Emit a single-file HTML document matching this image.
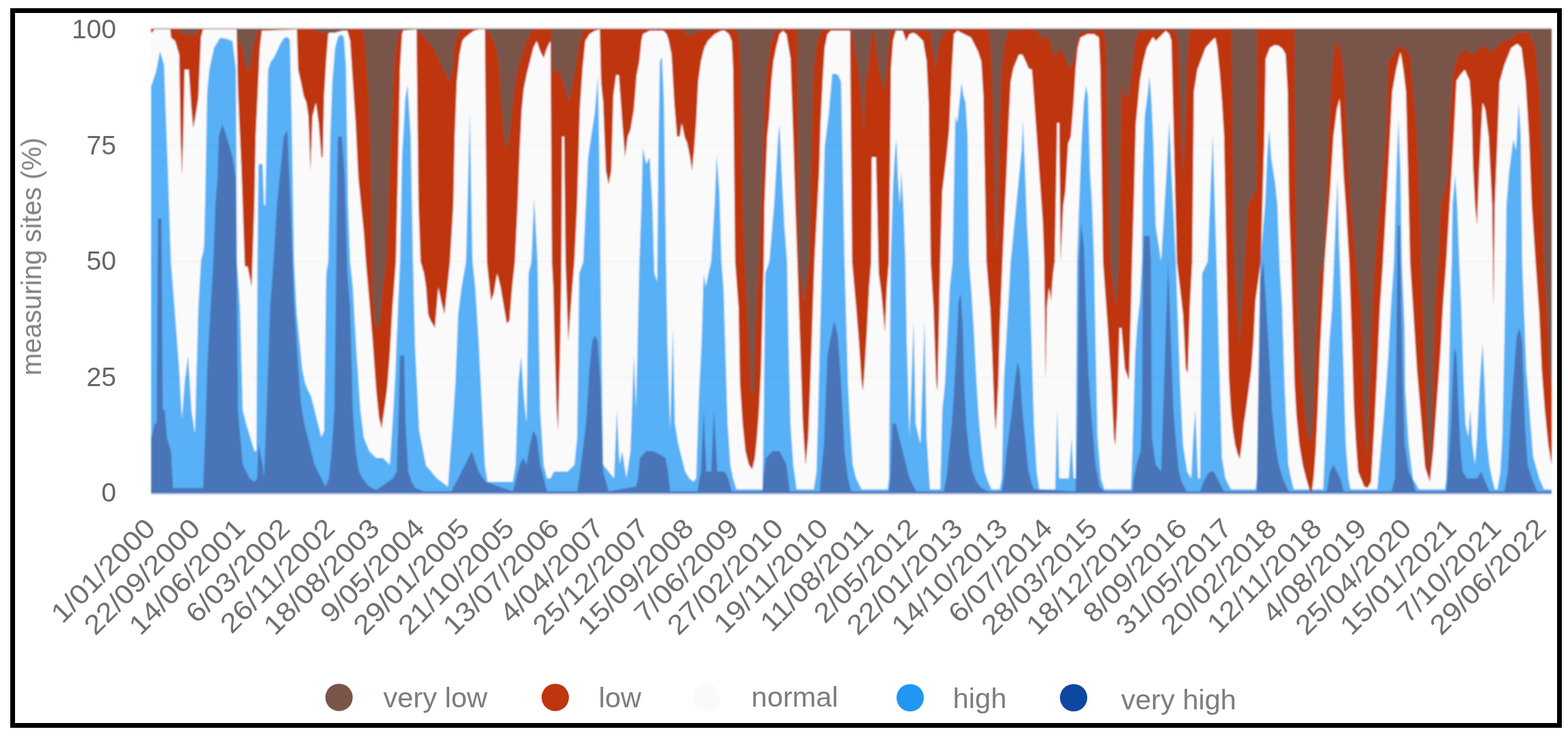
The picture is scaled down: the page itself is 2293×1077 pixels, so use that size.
<!DOCTYPE html>
<html><head><meta charset="utf-8"><title>measuring sites</title>
<style>
html,body{margin:0;padding:0;background:#fff;}
body{width:2293px;height:1077px;position:relative;overflow:hidden;}
.frame{position:absolute;left:14.9px;top:12px;width:2269px;height:1053px;box-sizing:border-box;border:7.2px solid #000;}
</style></head><body>
<svg width="2293" height="1077" viewBox="0 0 2293 1077" style="position:absolute;left:0;top:0">
<defs><filter id="bc" x="-1%" y="-1%" width="102%" height="102%"><feGaussianBlur stdDeviation="0.9"/></filter><filter id="bt" x="-5%" y="-5%" width="110%" height="110%"><feGaussianBlur stdDeviation="0.6"/></filter></defs>
<g filter="url(#bc)">
<rect x="221.0" y="40" width="2048.0" height="1.5" fill="#e2e2e2"/>
<rect x="221.0" y="42.5" width="2048.0" height="679.5" fill="#4975b8"/>
<path d="M221.0 42.0L221.0 640.0 222.0 640.0 226.0 620.0 229.0 620.0 231.0 320.0 236.0 320.0 238.0 600.0 241.0 600.0 244.0 640.0 250.0 660.0 253.0 714.0 290.0 714.0 297.0 714.0 300.0 640.0 303.0 540.0 308.0 450.0 312.0 383.0 315.0 300.0 318.0 262.0 320.0 200.0 325.0 182.0 330.0 195.0 340.0 230.0 345.0 260.0 348.0 600.0 355.0 680.0 365.0 700.0 372.0 705.0 376.0 700.0 378.0 650.0 384.0 680.0 386.0 700.0 390.0 600.0 395.0 450.0 400.0 383.0 405.0 300.0 410.0 250.0 415.0 200.0 420.0 190.0 425.0 300.0 430.0 440.0 435.0 520.0 440.0 590.0 445.0 620.0 450.0 640.0 460.0 680.0 470.0 700.0 476.0 712.0 481.0 700.0 485.0 660.0 489.0 600.0 491.0 450.0 494.0 200.0 500.0 200.0 504.0 260.0 508.0 400.0 512.0 450.0 516.0 600.0 520.0 660.0 525.0 690.0 530.0 700.0 540.0 712.0 550.0 717.0 575.0 700.0 580.0 690.0 583.0 600.0 585.0 520.0 591.0 520.0 593.0 620.0 597.0 690.0 602.0 705.0 607.0 714.0 620.0 719.0 660.0 719.0 670.0 700.0 680.0 680.0 690.0 660.0 700.0 690.0 710.0 705.0 750.0 719.0 755.0 700.0 760.0 680.0 765.0 670.0 770.0 680.0 775.0 650.0 780.0 630.0 785.0 640.0 790.0 680.0 800.0 719.0 844.0 719.0 847.0 700.0 852.0 660.0 857.0 620.0 862.0 540.0 866.0 500.0 870.0 490.0 874.0 500.0 878.0 560.0 882.0 690.0 890.0 719.0 930.0 712.0 933.0 700.0 936.0 670.0 945.0 660.0 955.0 660.0 965.0 665.0 973.0 670.0 977.0 690.0 980.0 719.0 1020.0 719.0 1023.0 700.0 1025.0 690.0 1029.0 600.0 1033.0 690.0 1040.0 690.0 1044.0 600.0 1049.0 690.0 1060.0 690.0 1065.0 700.0 1070.0 719.0 1115.0 719.0 1116.0 700.0 1120.0 670.0 1130.0 660.0 1140.0 660.0 1150.0 680.0 1155.0 719.0 1199.0 719.0 1200.0 700.0 1205.0 650.0 1210.0 520.0 1215.0 492.0 1220.0 470.0 1225.0 490.0 1230.0 560.0 1235.0 660.0 1240.0 700.0 1245.0 719.0 1300.0 719.0 1302.0 700.0 1305.0 620.0 1310.0 620.0 1315.0 640.0 1320.0 660.0 1325.0 680.0 1330.0 700.0 1340.0 719.0 1378.0 719.0 1380.0 719.0 1384.0 700.0 1388.0 660.0 1392.0 620.0 1396.0 560.0 1399.0 500.0 1402.0 440.0 1405.0 430.0 1408.0 480.0 1410.0 560.0 1413.0 620.0 1417.0 660.0 1422.0 690.0 1428.0 705.0 1435.0 714.0 1445.0 719.0 1465.0 719.0 1468.0 700.0 1472.0 660.0 1476.0 630.0 1480.0 600.0 1484.0 560.0 1488.0 530.0 1491.0 540.0 1495.0 600.0 1500.0 650.0 1504.0 690.0 1508.0 705.0 1512.0 716.0 1573.0 719.0 1576.0 600.0 1578.0 383.0 1581.0 326.0 1585.0 360.0 1588.0 450.0 1592.0 550.0 1597.0 620.0 1602.0 680.0 1608.0 712.0 1615.0 719.0 1656.0 719.0 1658.0 700.0 1662.0 680.0 1668.0 660.0 1670.0 600.0 1671.5 383.0 1673.0 345.0 1681.0 345.0 1683.0 383.0 1684.5 640.0 1690.0 680.0 1698.0 690.0 1701.0 600.0 1708.2 383.0 1716.0 600.0 1720.0 650.0 1724.0 690.0 1728.0 705.0 1735.0 719.0 1755.0 719.0 1760.0 705.0 1765.0 695.0 1770.0 690.0 1775.0 690.0 1780.0 700.0 1790.0 719.0 1838.0 719.0 1840.0 420.0 1847.5 383.0 1856.0 520.0 1860.0 600.0 1865.0 650.0 1870.0 680.0 1876.0 700.0 1882.0 714.0 1885.0 719.0 1940.0 719.0 1945.0 690.0 1950.0 680.0 1955.0 690.0 1960.0 700.0 1965.0 719.0 2035.0 719.0 2040.0 700.0 2042.0 500.0 2044.0 330.0 2047.0 330.0 2050.0 500.0 2054.0 650.0 2060.0 690.0 2065.0 700.0 2070.0 719.0 2113.0 719.0 2115.0 719.0 2119.0 670.0 2122.0 620.0 2125.0 540.0 2127.0 508.0 2130.0 520.0 2133.0 600.0 2136.0 660.0 2139.0 690.0 2145.0 700.0 2150.0 700.0 2160.0 700.0 2166.0 690.0 2170.0 700.0 2178.0 719.0 2200.0 719.0 2205.0 690.0 2210.0 600.0 2215.0 530.0 2218.0 492.0 2222.0 480.0 2226.0 500.0 2230.0 620.0 2234.0 680.0 2240.0 700.0 2248.0 719.0 2269.0 719.0L2269.0 42.0Z" fill="#58b0f6"/>
<path d="M221.0 42.0L221.0 124.0 222.0 124.0 228.0 105.0 234.0 75.0 240.0 95.0 242.0 156.0 246.0 262.0 250.0 383.0 256.0 460.0 262.0 540.0 266.0 614.0 270.0 560.0 275.0 520.0 280.0 600.0 285.0 635.0 290.0 450.0 294.0 380.0 297.0 370.0 298.5 358.0 300.0 294.0 303.0 134.0 306.0 102.0 313.0 70.0 322.0 55.0 332.0 57.0 340.0 60.0 345.0 102.0 346.5 383.0 351.0 450.0 355.0 600.0 360.0 620.0 366.0 640.0 372.0 660.0 375.0 660.0 376.5 383.0 378.0 240.0 384.0 240.0 386.0 300.0 388.0 300.0 392.0 102.0 396.0 90.0 400.0 85.0 405.0 75.0 410.0 64.0 415.0 56.0 420.0 54.0 424.0 58.0 427.0 200.0 430.0 383.0 434.0 460.0 438.0 500.0 442.0 540.0 446.0 560.0 450.0 570.0 455.0 580.0 460.0 600.0 465.0 620.0 470.0 640.0 474.0 630.0 477.0 400.0 480.0 383.0 483.0 200.0 486.0 120.0 490.0 70.0 494.0 55.0 497.0 51.0 500.0 51.0 503.0 55.0 506.0 100.0 509.0 300.0 512.0 383.0 516.0 420.0 521.0 510.0 527.0 600.0 532.0 640.0 540.0 660.0 550.0 670.0 560.0 670.0 570.0 680.0 575.0 604.0 578.0 550.0 582.0 450.0 585.0 383.0 588.0 230.0 592.6 144.0 596.0 124.0 600.6 198.0 604.0 383.0 607.0 508.0 613.0 630.0 623.0 681.0 639.0 700.0 655.0 712.0 662.0 620.0 666.0 560.0 670.0 460.0 675.0 420.0 681.5 383.0 687.0 166.0 691.0 383.0 695.0 420.0 700.0 500.0 705.0 600.0 709.0 680.0 713.0 705.0 750.0 705.0 754.0 680.0 758.0 560.0 762.0 521.0 766.0 580.0 770.0 620.0 773.0 400.0 777.0 383.0 781.0 290.0 786.0 380.0 790.0 600.0 795.0 680.0 800.0 700.0 805.0 700.0 810.0 690.0 830.0 690.0 840.0 680.0 844.0 640.0 847.0 400.0 853.0 383.0 854.0 358.0 860.0 230.0 869.6 166.0 874.4 112.0 876.0 200.0 878.0 383.0 882.0 680.0 890.0 690.0 898.0 700.0 902.0 600.0 906.0 680.0 910.0 660.0 916.0 700.0 922.0 660.0 927.0 520.0 930.0 600.0 932.0 520.0 935.0 383.0 938.0 300.0 940.0 217.0 945.0 240.0 950.0 230.0 954.0 300.0 957.0 400.0 961.0 412.0 963.0 200.0 965.0 90.0 968.0 83.0 971.0 150.0 974.0 383.0 976.0 500.0 980.0 630.0 984.0 480.0 987.0 620.0 992.0 650.0 997.0 670.0 1002.0 690.0 1008.0 700.0 1014.0 705.0 1018.0 700.0 1022.0 580.0 1026.0 500.0 1029.0 400.0 1032.0 420.0 1036.0 400.0 1040.0 383.0 1045.0 300.0 1048.0 227.0 1052.0 280.0 1055.0 383.0 1058.0 420.0 1061.0 520.0 1064.0 620.0 1068.0 680.0 1072.0 700.0 1077.0 716.0 1115.0 716.0 1117.0 600.0 1119.0 400.0 1125.0 383.0 1132.0 300.0 1138.0 200.0 1140.0 182.0 1143.0 250.0 1147.0 330.0 1151.0 383.0 1153.0 500.0 1156.0 620.0 1160.0 680.0 1165.0 716.0 1190.0 716.0 1194.0 690.0 1196.0 620.0 1199.0 500.0 1202.0 383.0 1206.0 215.0 1212.0 166.0 1217.0 108.0 1222.0 108.0 1226.0 110.0 1230.0 120.0 1235.0 383.0 1240.0 560.0 1243.0 620.0 1247.0 680.0 1252.0 700.0 1260.0 716.0 1298.0 716.0 1300.0 700.0 1302.5 383.0 1306.0 270.0 1309.0 220.0 1311.0 204.0 1313.0 260.0 1316.0 300.0 1318.0 250.0 1321.0 300.0 1324.0 383.0 1326.0 500.0 1330.0 640.0 1336.0 470.0 1339.0 620.0 1346.0 650.0 1352.0 470.0 1355.0 640.0 1360.0 716.0 1375.0 716.0 1378.0 600.0 1382.0 560.0 1386.0 480.0 1389.0 420.0 1393.0 383.0 1397.0 170.0 1400.0 180.0 1403.0 150.0 1406.0 121.0 1409.0 140.0 1412.0 150.0 1415.0 200.0 1417.0 383.0 1420.0 420.0 1424.0 480.0 1428.0 560.0 1432.0 620.0 1436.0 660.0 1440.0 690.0 1445.0 705.0 1450.0 716.0 1462.0 716.0 1465.0 700.0 1468.0 560.0 1478.0 383.0 1490.0 260.0 1494.0 220.0 1496.0 176.0 1499.0 250.0 1502.0 330.0 1505.0 383.0 1509.0 520.0 1512.0 620.0 1516.0 690.0 1520.0 716.0 1543.0 716.0 1546.0 600.0 1549.0 700.0 1563.0 700.0 1567.0 640.0 1570.0 700.0 1573.0 700.0 1575.0 383.0 1578.0 300.0 1582.0 200.0 1585.0 150.0 1588.0 125.0 1591.0 140.0 1594.0 250.0 1597.0 300.0 1600.0 383.0 1602.0 500.0 1605.0 640.0 1610.0 700.0 1615.0 716.0 1654.0 716.0 1656.0 660.0 1660.0 520.0 1663.0 476.0 1667.0 440.0 1670.0 383.0 1671.0 260.0 1674.0 170.0 1678.0 140.0 1681.0 112.0 1684.0 150.0 1687.0 220.0 1690.0 330.0 1698.0 383.0 1706.0 250.0 1710.0 176.0 1713.0 250.0 1719.5 383.0 1726.0 570.0 1730.0 650.0 1736.0 690.0 1742.0 700.0 1745.0 640.0 1748.0 600.0 1752.0 700.0 1755.0 700.0 1758.0 400.0 1766.0 383.0 1773.5 198.0 1779.0 383.0 1784.0 570.0 1787.0 670.0 1792.0 700.0 1800.0 716.0 1836.0 716.0 1838.0 700.0 1843.0 383.0 1850.0 300.0 1853.0 230.0 1856.0 189.0 1859.0 230.0 1862.0 250.0 1865.0 270.0 1868.0 300.0 1871.0 383.0 1875.0 450.0 1878.0 550.0 1881.0 620.0 1884.0 680.0 1888.0 700.0 1892.0 716.0 1935.0 716.0 1940.0 600.0 1944.0 500.0 1948.0 450.0 1952.0 350.0 1956.0 262.0 1958.0 350.0 1962.0 450.0 1965.0 550.0 1968.0 650.0 1972.0 700.0 1975.0 716.0 2014.0 716.0 2024.0 604.0 2030.0 524.0 2034.0 450.0 2038.5 383.0 2042.0 250.0 2045.0 176.0 2048.0 250.0 2050.0 383.0 2054.0 480.0 2055.0 570.0 2060.0 650.0 2066.0 700.0 2075.0 716.0 2113.0 716.0 2115.0 700.0 2118.0 600.0 2121.0 450.0 2123.0 383.0 2124.0 300.0 2128.0 256.0 2131.0 300.0 2134.0 383.0 2137.0 450.0 2140.0 550.0 2143.0 620.0 2147.0 640.0 2150.0 600.0 2153.0 650.0 2157.0 680.0 2160.0 640.0 2164.0 560.0 2168.0 502.0 2171.0 560.0 2174.0 640.0 2178.0 680.0 2182.0 700.0 2186.0 716.0 2190.0 716.0 2194.0 690.0 2197.0 640.0 2200.0 500.0 2202.0 383.0 2203.0 300.0 2207.0 250.0 2213.0 204.0 2217.0 220.0 2221.0 150.0 2224.0 200.0 2226.0 383.0 2232.0 540.0 2242.0 668.0 2251.0 700.0 2258.0 716.0 2269.0 716.0L2269.0 42.0Z" fill="#fafafa"/>
<path d="M221.0 42.0L221.0 48.0 222.0 48.0 226.0 43.0 249.0 43.0 250.0 55.0 256.0 60.0 262.0 80.0 264.0 200.0 266.0 256.0 268.0 200.0 270.0 102.0 276.0 102.0 280.0 160.0 282.5 188.0 286.0 170.0 290.0 144.0 294.0 54.0 297.0 43.0 346.0 43.0 348.0 134.0 353.0 246.0 358.0 390.0 362.0 390.0 368.0 420.0 372.0 300.0 374.0 198.0 377.0 134.0 380.0 70.0 383.0 45.0 434.0 43.0 436.0 102.0 440.0 120.0 444.0 140.0 448.0 150.0 451.0 170.0 454.0 250.0 457.0 170.0 462.0 150.0 466.0 180.0 470.0 230.0 472.0 230.0 474.0 140.0 477.0 90.0 480.0 50.0 483.0 45.0 508.0 45.0 512.0 60.0 516.0 120.0 520.0 180.0 524.0 260.0 528.0 300.0 532.0 340.0 535.0 383.0 540.0 440.0 545.0 500.0 550.0 570.0 554.0 610.0 558.0 627.0 562.0 600.0 566.0 570.0 570.0 520.0 574.0 450.0 579.0 383.0 583.0 200.0 585.0 100.0 588.0 50.0 590.0 43.0 606.0 43.0 609.0 43.0 612.0 300.0 615.0 383.0 620.0 400.0 623.0 420.0 626.0 460.0 630.0 470.0 636.0 480.0 641.0 420.0 645.0 440.0 650.0 460.0 658.0 383.0 663.0 300.0 665.0 200.0 668.0 120.0 672.0 80.0 676.0 60.0 680.0 55.0 686.0 50.0 693.0 45.0 700.0 43.0 709.0 43.0 712.0 383.0 718.0 440.0 722.0 430.0 727.0 400.0 732.0 420.0 737.0 450.0 741.0 473.0 745.0 470.0 749.0 420.0 753.0 383.0 757.0 300.0 760.0 220.0 763.0 160.0 766.0 130.0 770.0 110.0 775.0 90.0 780.0 70.0 785.0 60.0 790.0 75.0 795.0 85.0 800.0 70.0 805.0 60.0 807.0 383.0 809.0 420.0 811.0 500.0 814.0 600.0 816.0 630.0 819.0 520.0 821.0 400.0 822.0 200.0 825.0 200.0 827.0 383.0 831.0 500.0 834.0 460.0 837.0 420.0 840.0 383.0 844.0 300.0 848.0 160.0 852.0 100.0 856.0 60.0 862.0 50.0 870.0 45.0 877.0 43.0 879.0 120.0 882.0 150.0 886.0 250.0 890.0 270.0 894.0 250.0 897.0 140.0 901.0 110.0 905.0 110.0 910.0 180.0 914.0 230.0 918.0 200.0 922.0 190.0 927.0 160.0 931.0 110.0 935.0 90.0 938.0 60.0 940.0 50.0 950.0 45.0 970.0 45.0 975.0 50.0 978.0 60.0 982.0 80.0 986.0 150.0 990.0 200.0 994.0 200.0 997.0 180.0 1001.0 200.0 1005.0 210.0 1009.0 230.0 1012.0 250.0 1015.0 220.0 1018.0 180.0 1021.0 120.0 1025.0 90.0 1030.0 70.0 1035.0 60.0 1040.0 55.0 1045.0 50.0 1055.0 45.0 1060.0 45.0 1066.0 50.0 1070.0 60.0 1072.0 100.0 1075.0 383.0 1080.0 450.0 1082.0 560.0 1086.0 620.0 1090.0 660.0 1095.0 680.0 1100.0 687.0 1104.0 670.0 1107.0 640.0 1110.0 600.0 1113.0 540.0 1115.0 460.0 1117.0 383.0 1118.0 300.0 1120.0 250.0 1122.0 200.0 1125.0 170.0 1128.0 120.0 1131.0 90.0 1135.0 70.0 1140.0 50.0 1145.0 45.0 1150.0 50.0 1156.0 86.0 1160.0 200.0 1163.0 300.0 1166.0 383.0 1170.0 500.0 1174.0 620.0 1178.0 681.0 1182.0 640.0 1185.0 560.0 1191.0 383.0 1198.0 250.0 1200.0 180.0 1203.0 120.0 1206.0 70.0 1210.0 50.0 1215.0 45.0 1243.0 45.0 1246.0 383.0 1252.0 450.0 1256.0 500.0 1260.0 560.0 1262.0 572.0 1265.0 530.0 1268.0 480.0 1271.0 420.0 1274.0 383.0 1275.0 230.0 1281.0 230.0 1285.0 400.0 1289.0 430.0 1294.0 486.0 1297.0 420.0 1300.0 383.0 1303.0 100.0 1306.0 60.0 1310.0 45.0 1315.0 43.0 1320.0 45.0 1325.0 60.0 1330.0 50.0 1335.0 48.0 1340.0 50.0 1345.0 55.0 1350.0 60.0 1355.0 90.0 1358.0 150.0 1361.0 383.0 1365.0 450.0 1369.0 560.0 1371.0 572.0 1373.0 480.0 1375.0 383.0 1378.0 280.0 1384.0 230.0 1388.0 190.0 1392.0 100.0 1395.0 50.0 1400.0 45.0 1420.0 55.0 1425.0 65.0 1430.0 75.0 1435.0 90.0 1438.0 140.0 1442.5 383.0 1448.0 450.0 1451.0 520.0 1454.0 600.0 1456.0 630.0 1458.0 600.0 1460.0 560.0 1462.0 480.0 1466.0 383.0 1472.0 250.0 1475.0 180.0 1478.0 120.0 1482.0 100.0 1486.0 90.0 1490.0 80.0 1495.0 80.0 1500.0 90.0 1504.0 100.0 1509.0 102.0 1516.0 198.0 1525.0 326.0 1527.0 383.0 1529.0 556.0 1531.0 450.0 1534.0 420.0 1537.0 440.0 1540.0 400.0 1542.5 383.0 1546.0 180.0 1549.0 180.0 1551.0 383.0 1555.0 300.0 1558.0 280.0 1562.0 210.0 1566.0 200.0 1570.0 150.0 1573.0 100.0 1576.0 70.0 1580.0 55.0 1590.0 50.0 1600.0 50.0 1607.0 55.0 1609.0 100.0 1613.0 383.0 1620.0 480.0 1625.0 560.0 1629.0 640.0 1631.0 652.0 1634.0 600.0 1637.0 480.0 1640.0 480.0 1645.0 540.0 1651.0 556.0 1654.0 450.0 1655.5 383.0 1658.0 300.0 1661.0 182.0 1664.0 150.0 1667.0 118.0 1672.0 90.0 1677.0 70.0 1686.0 54.0 1690.0 60.0 1695.0 55.0 1700.0 50.0 1705.0 45.0 1710.0 50.0 1713.0 60.0 1721.0 383.0 1730.0 460.0 1734.0 540.0 1737.0 546.0 1740.0 450.0 1743.5 383.0 1746.0 134.0 1751.0 102.0 1757.0 86.0 1763.0 70.0 1770.0 62.0 1775.0 57.0 1777.0 55.0 1780.0 70.0 1784.0 110.0 1787.0 150.0 1790.0 200.0 1793.5 383.0 1797.0 550.0 1800.0 600.0 1803.0 630.0 1806.0 650.0 1810.0 665.0 1813.0 672.0 1816.0 650.0 1819.0 620.0 1822.0 600.0 1826.0 570.0 1830.0 540.0 1833.0 500.0 1836.0 440.0 1843.7 383.0 1849.0 200.0 1851.0 86.0 1857.0 70.0 1864.0 66.0 1870.0 67.0 1876.0 72.0 1880.0 80.0 1883.0 134.0 1885.0 300.0 1888.0 383.0 1893.0 560.0 1896.0 610.0 1900.0 650.0 1905.0 680.0 1910.0 700.0 1915.0 717.0 1918.0 722.0 1921.0 700.0 1924.0 660.0 1927.0 600.0 1930.0 520.0 1937.0 383.0 1945.0 280.0 1950.0 200.0 1955.0 160.0 1959.0 144.0 1962.0 200.0 1965.0 260.0 1968.0 300.0 1971.0 350.0 1973.0 383.0 1977.0 500.0 1980.0 600.0 1983.0 650.0 1986.0 690.0 1995.0 712.0 2000.0 714.0 2005.0 705.0 2010.0 620.0 2014.0 540.0 2018.0 450.0 2022.5 383.0 2030.0 250.0 2036.0 134.0 2042.0 100.0 2048.0 76.0 2052.0 100.0 2056.0 134.0 2059.0 250.0 2062.0 383.0 2067.0 460.0 2072.0 540.0 2078.0 610.0 2084.0 684.0 2091.0 705.0 2096.0 660.0 2100.0 604.0 2104.0 550.0 2107.0 508.0 2110.0 450.0 2115.0 383.0 2126.0 198.0 2130.0 118.0 2136.0 109.0 2142.0 102.0 2149.0 118.0 2152.0 160.0 2154.0 240.0 2157.0 300.0 2160.0 330.0 2163.0 250.0 2168.0 150.0 2172.0 160.0 2177.0 200.0 2182.0 300.0 2184.0 450.0 2186.0 300.0 2190.0 200.0 2193.0 120.0 2200.0 95.0 2210.0 70.0 2219.0 64.0 2225.0 70.0 2231.0 120.0 2236.0 200.0 2240.0 300.0 2245.5 383.0 2251.0 460.0 2254.5 540.0 2259.0 600.0 2264.0 650.0 2269.0 681.0L2269.0 42.0Z" fill="#bf360c"/>
<path d="M221.0 42.0L221.0 42.5 222.0 42.5 262.0 42.5 265.0 50.0 287.0 50.0 290.0 42.5 346.0 42.5 348.0 60.0 353.0 66.0 358.0 90.0 362.0 102.0 366.0 102.0 370.0 70.0 375.0 50.0 380.0 43.0 460.0 43.0 463.0 48.0 489.0 48.0 508.0 43.0 530.0 43.0 533.0 60.0 536.0 100.0 539.0 134.0 542.0 250.0 544.0 383.0 545.0 430.0 548.0 470.0 552.0 480.0 556.0 470.0 560.0 420.0 565.0 383.0 568.0 300.0 572.0 200.0 576.0 100.0 580.0 60.0 584.0 45.0 609.0 43.0 617.0 50.0 620.0 54.0 633.0 70.0 649.0 102.0 657.0 121.0 662.0 102.0 665.0 64.0 671.0 48.0 675.0 43.0 710.0 43.0 717.0 50.0 722.0 60.0 728.0 80.0 733.0 150.0 737.0 200.0 741.0 220.0 745.0 198.0 750.0 150.0 755.0 110.0 760.0 90.0 765.0 75.0 770.0 60.0 775.0 50.0 780.0 43.0 806.0 43.0 808.0 100.0 812.0 110.0 816.0 100.0 820.0 110.0 826.0 130.0 832.0 150.0 838.0 120.0 843.0 90.0 848.0 60.0 853.0 45.0 856.0 43.0 935.0 43.0 1000.0 43.0 1003.0 50.0 1010.0 52.0 1020.0 48.0 1025.0 45.0 1040.0 43.0 1071.0 43.0 1077.0 45.0 1080.0 50.0 1083.0 100.0 1086.0 300.0 1089.0 383.0 1094.0 480.0 1098.0 570.0 1102.0 580.0 1105.0 480.0 1110.0 383.0 1115.0 250.0 1118.0 150.0 1122.0 100.0 1125.0 80.0 1128.0 60.0 1132.0 50.0 1136.0 45.0 1140.0 43.0 1161.0 43.0 1166.0 45.0 1168.0 383.0 1172.0 420.0 1175.0 444.0 1179.0 420.0 1183.5 383.0 1187.0 200.0 1190.0 100.0 1195.0 60.0 1200.0 48.0 1205.0 43.0 1245.0 43.0 1250.0 70.0 1255.0 100.0 1260.0 150.0 1263.0 200.0 1266.0 118.0 1270.0 100.0 1275.0 50.0 1278.0 43.0 1280.0 60.0 1285.0 102.0 1290.0 120.0 1294.0 134.0 1297.0 100.0 1300.0 60.0 1303.0 45.0 1360.0 45.0 1362.0 60.0 1365.0 80.0 1369.0 102.0 1372.0 70.0 1376.0 55.0 1380.0 50.0 1385.0 45.0 1395.0 43.0 1445.0 43.0 1448.0 60.0 1452.0 150.0 1455.0 300.0 1458.0 383.0 1461.0 200.0 1465.0 100.0 1470.0 60.0 1475.0 45.0 1509.0 43.0 1515.0 45.0 1520.0 50.0 1525.0 60.0 1530.0 50.0 1535.0 60.0 1540.0 80.0 1545.0 80.0 1550.0 70.0 1555.0 80.0 1560.0 90.0 1565.0 100.0 1570.0 90.0 1575.0 60.0 1580.0 48.0 1610.0 43.0 1613.0 43.0 1617.0 60.0 1624.0 383.0 1630.0 440.0 1633.0 444.0 1636.0 383.0 1640.0 125.0 1645.0 140.0 1650.0 144.0 1653.0 120.0 1657.0 90.0 1660.0 60.0 1665.0 48.0 1670.0 45.0 1713.0 43.0 1718.0 45.0 1723.0 60.0 1726.0 150.0 1730.0 262.0 1733.0 200.0 1736.0 100.0 1739.0 50.0 1742.0 43.0 1794.0 43.0 1801.0 43.0 1804.5 383.0 1810.0 470.0 1813.0 508.0 1816.0 450.0 1820.5 383.0 1825.0 300.0 1830.0 290.0 1836.0 280.0 1837.5 280.0 1838.5 43.0 1887.0 43.0 1893.0 43.0 1896.0 383.0 1899.0 500.0 1902.0 540.0 1906.0 580.0 1910.0 620.0 1914.0 640.0 1918.0 646.0 1921.0 600.0 1924.0 520.0 1927.0 460.0 1930.0 400.0 1936.0 383.0 1943.0 200.0 1948.0 100.0 1952.0 70.0 1956.0 60.0 1961.0 75.0 1966.0 120.0 1970.0 200.0 1975.0 300.0 1983.0 383.0 1990.0 450.0 1993.0 550.0 1996.0 640.0 1999.0 668.0 2003.0 560.0 2007.0 450.0 2010.5 383.0 2020.0 280.0 2027.0 198.0 2030.0 92.0 2040.0 75.0 2048.0 67.0 2055.0 72.0 2062.0 80.0 2067.0 140.0 2072.0 198.0 2076.0 300.0 2078.0 383.0 2082.0 500.0 2087.0 620.0 2091.0 700.0 2094.0 620.0 2097.0 500.0 2100.0 420.0 2103.5 383.0 2107.0 300.0 2117.0 262.0 2120.0 166.0 2126.0 102.0 2133.0 80.0 2142.0 73.0 2155.0 80.0 2168.0 67.0 2181.0 76.0 2194.0 64.0 2213.0 54.0 2219.0 48.0 2235.0 48.0 2245.0 70.0 2251.0 134.0 2254.5 230.0 2257.6 383.0 2262.0 450.0 2266.0 540.0 2269.0 572.0L2269.0 42.0Z" fill="#795548"/>
<rect x="221.0" y="212.5" width="2048.0" height="1" fill="#000" fill-opacity="0.05"/>
<rect x="221.0" y="382.0" width="2048.0" height="1" fill="#000" fill-opacity="0.05"/>
<rect x="221.0" y="551.5" width="2048.0" height="1" fill="#000" fill-opacity="0.05"/>
<rect x="221.0" y="722" width="2048.0" height="2" fill="#ccd6eb"/>
</g><g filter="url(#bt)">
<text x="170.0" y="55.5" text-anchor="end" font-family="Liberation Sans, sans-serif" font-size="39.0" fill="#666666">100</text>
<text x="170.0" y="225.5" text-anchor="end" font-family="Liberation Sans, sans-serif" font-size="39.0" fill="#666666">75</text>
<text x="170.0" y="395.0" text-anchor="end" font-family="Liberation Sans, sans-serif" font-size="39.0" fill="#666666">50</text>
<text x="170.0" y="564.5" text-anchor="end" font-family="Liberation Sans, sans-serif" font-size="39.0" fill="#666666">25</text>
<text x="170.0" y="734.0" text-anchor="end" font-family="Liberation Sans, sans-serif" font-size="39.0" fill="#666666">0</text>
<text transform="translate(60.0 375.5) rotate(-90)" text-anchor="middle" font-family="Liberation Sans, sans-serif" font-size="41.0" fill="#808080" textLength="348.0" lengthAdjust="spacingAndGlyphs">measuring sites (%)</text>
<text transform="translate(229.6 775.5) rotate(-45) scale(1.100 1)" text-anchor="end" font-family="Liberation Sans, sans-serif" font-size="40.0" fill="#707070">1/01/2000</text>
<text transform="translate(295.2 775.5) rotate(-45) scale(1.100 1)" text-anchor="end" font-family="Liberation Sans, sans-serif" font-size="40.0" fill="#707070">22/09/2000</text>
<text transform="translate(360.8 775.5) rotate(-45) scale(1.100 1)" text-anchor="end" font-family="Liberation Sans, sans-serif" font-size="40.0" fill="#707070">14/06/2001</text>
<text transform="translate(426.4 775.5) rotate(-45) scale(1.100 1)" text-anchor="end" font-family="Liberation Sans, sans-serif" font-size="40.0" fill="#707070">6/03/2002</text>
<text transform="translate(492.0 775.5) rotate(-45) scale(1.100 1)" text-anchor="end" font-family="Liberation Sans, sans-serif" font-size="40.0" fill="#707070">26/11/2002</text>
<text transform="translate(557.6 775.5) rotate(-45) scale(1.100 1)" text-anchor="end" font-family="Liberation Sans, sans-serif" font-size="40.0" fill="#707070">18/08/2003</text>
<text transform="translate(623.2 775.5) rotate(-45) scale(1.100 1)" text-anchor="end" font-family="Liberation Sans, sans-serif" font-size="40.0" fill="#707070">9/05/2004</text>
<text transform="translate(688.8 775.5) rotate(-45) scale(1.100 1)" text-anchor="end" font-family="Liberation Sans, sans-serif" font-size="40.0" fill="#707070">29/01/2005</text>
<text transform="translate(754.4 775.5) rotate(-45) scale(1.100 1)" text-anchor="end" font-family="Liberation Sans, sans-serif" font-size="40.0" fill="#707070">21/10/2005</text>
<text transform="translate(820.0 775.5) rotate(-45) scale(1.100 1)" text-anchor="end" font-family="Liberation Sans, sans-serif" font-size="40.0" fill="#707070">13/07/2006</text>
<text transform="translate(885.6 775.5) rotate(-45) scale(1.100 1)" text-anchor="end" font-family="Liberation Sans, sans-serif" font-size="40.0" fill="#707070">4/04/2007</text>
<text transform="translate(951.2 775.5) rotate(-45) scale(1.100 1)" text-anchor="end" font-family="Liberation Sans, sans-serif" font-size="40.0" fill="#707070">25/12/2007</text>
<text transform="translate(1016.8 775.5) rotate(-45) scale(1.100 1)" text-anchor="end" font-family="Liberation Sans, sans-serif" font-size="40.0" fill="#707070">15/09/2008</text>
<text transform="translate(1082.4 775.5) rotate(-45) scale(1.100 1)" text-anchor="end" font-family="Liberation Sans, sans-serif" font-size="40.0" fill="#707070">7/06/2009</text>
<text transform="translate(1148.0 775.5) rotate(-45) scale(1.100 1)" text-anchor="end" font-family="Liberation Sans, sans-serif" font-size="40.0" fill="#707070">27/02/2010</text>
<text transform="translate(1213.6 775.5) rotate(-45) scale(1.100 1)" text-anchor="end" font-family="Liberation Sans, sans-serif" font-size="40.0" fill="#707070">19/11/2010</text>
<text transform="translate(1279.2 775.5) rotate(-45) scale(1.100 1)" text-anchor="end" font-family="Liberation Sans, sans-serif" font-size="40.0" fill="#707070">11/08/2011</text>
<text transform="translate(1344.8 775.5) rotate(-45) scale(1.100 1)" text-anchor="end" font-family="Liberation Sans, sans-serif" font-size="40.0" fill="#707070">2/05/2012</text>
<text transform="translate(1410.4 775.5) rotate(-45) scale(1.100 1)" text-anchor="end" font-family="Liberation Sans, sans-serif" font-size="40.0" fill="#707070">22/01/2013</text>
<text transform="translate(1476.0 775.5) rotate(-45) scale(1.100 1)" text-anchor="end" font-family="Liberation Sans, sans-serif" font-size="40.0" fill="#707070">14/10/2013</text>
<text transform="translate(1541.6 775.5) rotate(-45) scale(1.100 1)" text-anchor="end" font-family="Liberation Sans, sans-serif" font-size="40.0" fill="#707070">6/07/2014</text>
<text transform="translate(1607.2 775.5) rotate(-45) scale(1.100 1)" text-anchor="end" font-family="Liberation Sans, sans-serif" font-size="40.0" fill="#707070">28/03/2015</text>
<text transform="translate(1672.8 775.5) rotate(-45) scale(1.100 1)" text-anchor="end" font-family="Liberation Sans, sans-serif" font-size="40.0" fill="#707070">18/12/2015</text>
<text transform="translate(1738.4 775.5) rotate(-45) scale(1.100 1)" text-anchor="end" font-family="Liberation Sans, sans-serif" font-size="40.0" fill="#707070">8/09/2016</text>
<text transform="translate(1804.0 775.5) rotate(-45) scale(1.100 1)" text-anchor="end" font-family="Liberation Sans, sans-serif" font-size="40.0" fill="#707070">31/05/2017</text>
<text transform="translate(1869.6 775.5) rotate(-45) scale(1.100 1)" text-anchor="end" font-family="Liberation Sans, sans-serif" font-size="40.0" fill="#707070">20/02/2018</text>
<text transform="translate(1935.2 775.5) rotate(-45) scale(1.100 1)" text-anchor="end" font-family="Liberation Sans, sans-serif" font-size="40.0" fill="#707070">12/11/2018</text>
<text transform="translate(2000.8 775.5) rotate(-45) scale(1.100 1)" text-anchor="end" font-family="Liberation Sans, sans-serif" font-size="40.0" fill="#707070">4/08/2019</text>
<text transform="translate(2066.4 775.5) rotate(-45) scale(1.100 1)" text-anchor="end" font-family="Liberation Sans, sans-serif" font-size="40.0" fill="#707070">25/04/2020</text>
<text transform="translate(2132.0 775.5) rotate(-45) scale(1.100 1)" text-anchor="end" font-family="Liberation Sans, sans-serif" font-size="40.0" fill="#707070">15/01/2021</text>
<text transform="translate(2197.6 775.5) rotate(-45) scale(1.100 1)" text-anchor="end" font-family="Liberation Sans, sans-serif" font-size="40.0" fill="#707070">7/10/2021</text>
<text transform="translate(2263.2 775.5) rotate(-45) scale(1.100 1)" text-anchor="end" font-family="Liberation Sans, sans-serif" font-size="40.0" fill="#707070">29/06/2022</text>
<circle cx="495.8" cy="1020.5" r="20.0" fill="#795548"/>
<text x="560.5" y="1035.0" font-family="Liberation Sans, sans-serif" font-size="41.5" fill="#7d7d7d">very low</text>
<circle cx="812.0" cy="1020.5" r="20.0" fill="#bf360c"/>
<text x="875.5" y="1035.0" font-family="Liberation Sans, sans-serif" font-size="41.5" fill="#7d7d7d">low</text>
<circle cx="1033.0" cy="1020.5" r="20.0" fill="#fafafa"/>
<text x="1098.8" y="1034.0" font-family="Liberation Sans, sans-serif" font-size="41.5" fill="#7d7d7d">normal</text>
<circle cx="1331.0" cy="1021.0" r="20.0" fill="#2196f3"/>
<text x="1393.5" y="1035.5" font-family="Liberation Sans, sans-serif" font-size="41.5" fill="#7d7d7d">high</text>
<circle cx="1570.0" cy="1021.0" r="20.0" fill="#0d47a1"/>
<text x="1639.5" y="1038.0" font-family="Liberation Sans, sans-serif" font-size="41.5" fill="#7d7d7d">very high</text>
</g></svg>
<div class="frame"></div>
</body></html>
